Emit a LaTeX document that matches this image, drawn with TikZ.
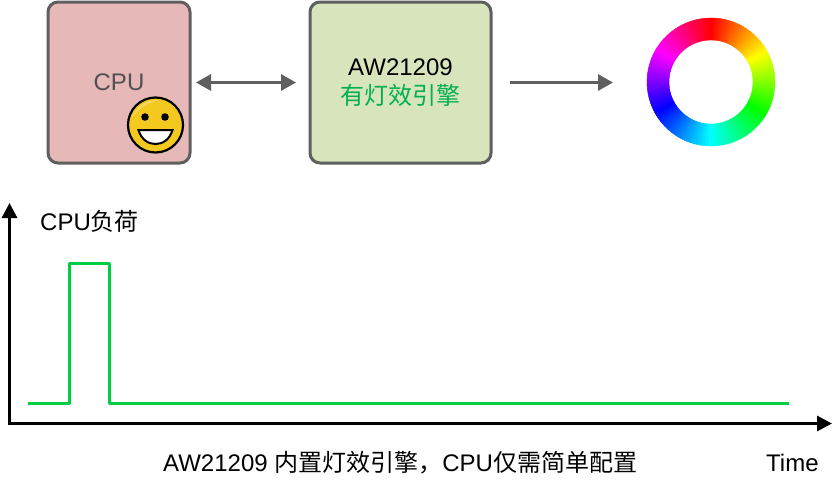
\PassOptionsToPackage{rgb}{xcolor}
\documentclass[tikz,border=0pt]{standalone}
\usepackage{fontspec}
\setmainfont{Liberation Sans}
\newfontfamily\cjk{Noto Sans CJK SC}
\usetikzlibrary{arrows.meta, positioning, calc}
\definecolor{boxline}{HTML}{5F5F5F}
\definecolor{cputext}{HTML}{505050}
\definecolor{cpufill}{HTML}{E6B8B7}
\definecolor{enginefill}{HTML}{D7E4BC}
\definecolor{enginegreen}{HTML}{00B050}
\definecolor{tracegreen}{HTML}{00CC44}
\definecolor{facegold}{HTML}{F3C91F}
\definecolor{facelight}{HTML}{F7D65A}

\begin{document}
\begin{tikzpicture}[x=1pt, y=-1pt, font=\fontsize{24}{29}\selectfont]
	\tikzstyle{obj} = [draw=boxline, line width=3pt, rounded corners=10pt, align=center, minimum height=161pt, outer sep=0pt]
	\tikzstyle{link} = [draw=boxline, line width=3pt, -{Triangle[width=16pt,length=15pt]}]
	\tikzstyle{axis} = [draw=black, line width=3pt, -{Triangle[width=15pt,length=15pt]}]
	\tikzstyle{txt} = [inner sep=0pt, anchor=base west]
	\useasboundingbox (0,0) rectangle (833,490);

	\node[obj, minimum width=142pt, fill=cpufill, text=cputext] at (119,82.5) (cpu) {CPU};
	\node[obj, minimum width=181pt, fill=enginefill] at (400.5,82.5) (engine) {AW21209\\{\cjk\color{enginegreen}有灯效引擎}};

	% colour ring
	\coordinate (wheel) at (711,82);
	\coordinate (wheelw) at (647,82.5);
	\foreach \a in {0,2,...,358}{
		\definecolor{ringc}{Hsb}{\a,1,1}
		\fill[ringc, draw=ringc, line width=0.3pt] ($(wheel)+({90-\a}:64pt)$) arc[start angle={90-\a}, delta angle=-2.4, radius=64pt] -- ($(wheel)+({90-\a-2.4}:42pt)$) arc[start angle={90-\a-2.4}, delta angle=2.4, radius=42pt] -- cycle;
	}

	% smiley
	\node[circle, draw=black, line width=2.2pt, fill=facegold, minimum size=55pt, inner sep=0pt] at (155.5,125) (face) {};
	\fill[facelight] ($(face)+(-24,-6)$) .. controls ($(face)+(-20,-20)$) and ($(face)+(-8,-26)$) .. ($(face)+(4,-25)$) .. controls ($(face)+(-8,-22)$) and ($(face)+(-18,-16)$) .. cycle;
	\fill[black] ($(face)+(-10.5,-8)$) circle (3.8pt);
	\fill[black] ($(face)+(9.5,-8)$) circle (3.8pt);
	\draw[black, line width=2pt, fill=white] ($(face)+(-17,5)$) -- ($(face)+(17,5)$) .. controls ($(face)+(14,15)$) and ($(face)+(7,19)$) .. ($(face)+(0,19)$) .. controls ($(face)+(-7,19)$) and ($(face)+(-14,15)$) .. cycle;

	\draw[link, {Triangle[width=16pt,length=15pt]}-{Triangle[width=16pt,length=15pt]}, shorten <=6pt, shorten >=14pt] (cpu) -- (engine);
	\draw[link, shorten <=19pt, shorten >=34pt] (engine) -- (wheelw);

	% load chart
	\coordinate (origin) at (9.5,423.5);
	\coordinate (ytop) at (9.5,203);
	\coordinate (xend) at (832,423.5);
	\draw[axis] (origin) -- (ytop);
	\draw[axis] ($(origin)+(-1.5,0)$) -- (xend);
	\draw[tracegreen, line width=3pt, line join=round] (28,403) -- (69,403) -- (69,263) -- (109,263) -- (109,403) -- (789,403);

	\node[txt] at (40,230) (load) {CPU{\cjk 负荷}};
	\node[txt] at (163,471) (note) {AW21209 {\cjk 内置灯效引擎，}CPU{\cjk 仅需简单配置}};
	\node[txt] at (766,471) (time) {Time};
\end{tikzpicture}
\end{document}
